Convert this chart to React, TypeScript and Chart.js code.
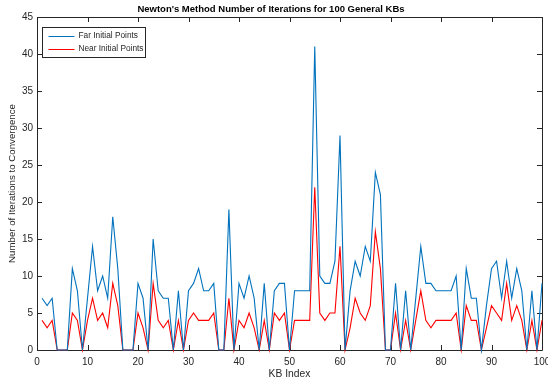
import { useEffect, useRef } from "react";
import { Chart, registerables } from "chart.js";

Chart.register(...registerables);

const kbIndex = Array.from({ length: 100 }, (_, i) => i + 1);

const farIterations = [
  7, 6, 7, 0, 0, 0, 11, 8, 0, 7,
  14, 8, 10, 7, 18, 11, 0, 0, 0, 9,
  7, 0, 15, 8, 7, 7, 0, 8, 0, 8,
  9, 11, 8, 8, 9, 0, 0, 19, 0, 9,
  7, 10, 7, 0, 9, 0, 8, 9, 9, 0,
  8, 8, 8, 8, 41, 10, 9, 9, 12, 29,
  0, 8, 12, 10, 14, 12, 24, 21, 0, 0,
  9, 0, 8, 0, 7, 14, 9, 9, 8, 8,
  8, 8, 10, 0, 11, 7, 7, 0, 6, 11,
  12, 7, 12, 7, 11, 8, 0, 8, 0, 9,
];

const nearIterations = [
  4, 3, 4, 0, 0, 0, 5, 4, 0, 4,
  7, 4, 5, 3, 9, 6, 0, 0, 0, 5,
  3, 0, 9, 4, 3, 4, 0, 4, 0, 4,
  5, 4, 4, 4, 5, 0, 0, 7, 0, 4,
  3, 5, 3, 0, 4, 0, 5, 4, 5, 0,
  4, 4, 4, 4, 22, 5, 4, 5, 5, 14,
  0, 3, 7, 5, 4, 6, 16, 11, 0, 0,
  5, 0, 4, 0, 4, 8, 4, 3, 4, 4,
  4, 4, 5, 0, 6, 4, 4, 0, 3, 6,
  5, 4, 9, 4, 6, 4, 0, 4, 0, 4,
];

const seriesLabels = ["Far Initial Points", "Near Initial Points"];
const xTickValues = [0, 10, 20, 30, 40, 50, 60, 70, 80, 90, 100];
const yTickValues = [0, 5, 10, 15, 20, 25, 30, 35, 40, 45];

const FONT = "'Liberation Sans', Arial, Helvetica, sans-serif";
const AXIS = "#262626";
const BLUE = "#0072BD";
const RED = "#FF0000";

const boxPlugin = {
  id: "matlabBox",
  beforeDatasetsDraw(chart: any) {
    const { ctx, chartArea } = chart;
    const { left, right, top, bottom } = chartArea;
    const xs = chart.scales.x;
    const ys = chart.scales.y;
    const tl = 5;
    ctx.save();
    ctx.strokeStyle = AXIS;
    ctx.lineWidth = 1;
    ctx.beginPath();
    ctx.rect(Math.round(left) + 0.5, Math.round(top) + 0.5, Math.round(right - left), Math.round(bottom - top));
    ctx.stroke();
    ctx.beginPath();
    for (const v of xTickValues) {
      const px = Math.round(xs.getPixelForValue(v)) + 0.5;
      ctx.moveTo(px, bottom);
      ctx.lineTo(px, bottom - tl);
      ctx.moveTo(px, top);
      ctx.lineTo(px, top + tl);
    }
    for (const v of yTickValues) {
      const py = Math.round(ys.getPixelForValue(v)) + 0.5;
      ctx.moveTo(left, py);
      ctx.lineTo(left + tl, py);
      ctx.moveTo(right, py);
      ctx.lineTo(right - tl, py);
    }
    ctx.stroke();
    ctx.restore();
  },
};

const legendPlugin = {
  id: "matlabLegend",
  afterDraw(chart: any) {
    const { ctx, chartArea } = chart;
    const x0 = Math.round(chartArea.left) + 5.5;
    const y0 = Math.round(chartArea.top) + 10.5;
    const w = 103;
    const h = 30;
    ctx.save();
    ctx.fillStyle = "#ffffff";
    ctx.fillRect(x0, y0, w, h);
    ctx.strokeStyle = AXIS;
    ctx.lineWidth = 1;
    ctx.strokeRect(x0, y0, w, h);
    ctx.font = `8.3px ${FONT}`;
    ctx.textBaseline = "middle";
    ctx.textAlign = "left";
    chart.data.datasets.forEach((ds: any, i: number) => {
      const cy = y0 + 8 + i * 13;
      ctx.strokeStyle = ds.borderColor;
      ctx.lineWidth = 1;
      ctx.beginPath();
      ctx.moveTo(x0 + 6, Math.round(cy) + 0.5);
      ctx.lineTo(x0 + 32, Math.round(cy) + 0.5);
      ctx.stroke();
      ctx.fillStyle = AXIS;
      ctx.fillText(ds.label, x0 + 36, cy + 0.5);
    });
    ctx.restore();
  },
};

export default function App() {
  const canvasRef = useRef<HTMLCanvasElement | null>(null);

  useEffect(() => {
    if (!canvasRef.current) return;
    const chart = new Chart(canvasRef.current, {
      type: "line",
      data: {
        datasets: [
          {
            label: seriesLabels[0],
            data: kbIndex.map((x, i) => ({ x, y: farIterations[i] })),
            borderColor: BLUE,
            backgroundColor: BLUE,
            borderWidth: 1.1,
            pointRadius: 0,
            tension: 0,
            clip: 4,
          },
          {
            label: seriesLabels[1],
            data: kbIndex.map((x, i) => ({ x, y: nearIterations[i] })),
            borderColor: RED,
            backgroundColor: RED,
            borderWidth: 1.1,
            pointRadius: 0,
            tension: 0,
            clip: 4,
          },
        ],
      },
      options: {
        responsive: false,
        animation: false,
        layout: { padding: { left: 0, right: 6, top: 0, bottom: 0 } },
        plugins: {
          legend: { display: false },
          tooltip: { enabled: false },
          title: {
            display: true,
            text: "Newton's Method Number of Iterations for 100 General KBs",
            color: "#000000",
            font: { family: FONT, size: 9.5, weight: "bold", lineHeight: 1.2 },
            padding: { top: 4, bottom: 1.6 },
          },
        },
        scales: {
          x: {
            type: "linear",
            min: 0,
            max: 100,
            afterBuildTicks: (s: any) => {
              s.ticks = xTickValues.map((v) => ({ value: v }));
            },
            afterFit: (s: any) => {
              s.height = 33;
              s.paddingLeft = 0;
              s.paddingRight = 0;
            },
            grid: { display: false, drawTicks: false },
            border: { display: false },
            ticks: {
              color: AXIS,
              font: { family: FONT, size: 10 },
              padding: 6,
              maxRotation: 0,
              autoSkip: false,
            },
            title: {
              display: true,
              text: "KB Index",
              color: AXIS,
              font: { family: FONT, size: 10.3 },
              padding: { top: 0, bottom: 3 },
            },
          },
          y: {
            type: "linear",
            min: 0,
            max: 45,
            afterBuildTicks: (s: any) => {
              s.ticks = yTickValues.map((v) => ({ value: v }));
            },
            afterFit: (s: any) => {
              s.width = 37;
              s.paddingTop = 0;
              s.paddingBottom = 0;
            },
            grid: { display: false, drawTicks: false },
            border: { display: false },
            ticks: {
              color: AXIS,
              font: { family: FONT, size: 10 },
              padding: 4,
              autoSkip: false,
            },
            title: {
              display: true,
              text: "Number of Iterations to Convergence",
              color: AXIS,
              font: { family: FONT, size: 9.7 },
              padding: { top: 7, bottom: 0 },
            },
          },
        },
      },
      plugins: [boxPlugin, legendPlugin],
    } as any);
    return () => chart.destroy();
  }, []);

  return (
    <div style={{ position: "absolute", left: 0, top: 0, width: 548, height: 383, background: "#fff" }}>
      <canvas ref={canvasRef} width={548} height={383} style={{ width: 548, height: 383, display: "block" }} />
    </div>
  );
}
